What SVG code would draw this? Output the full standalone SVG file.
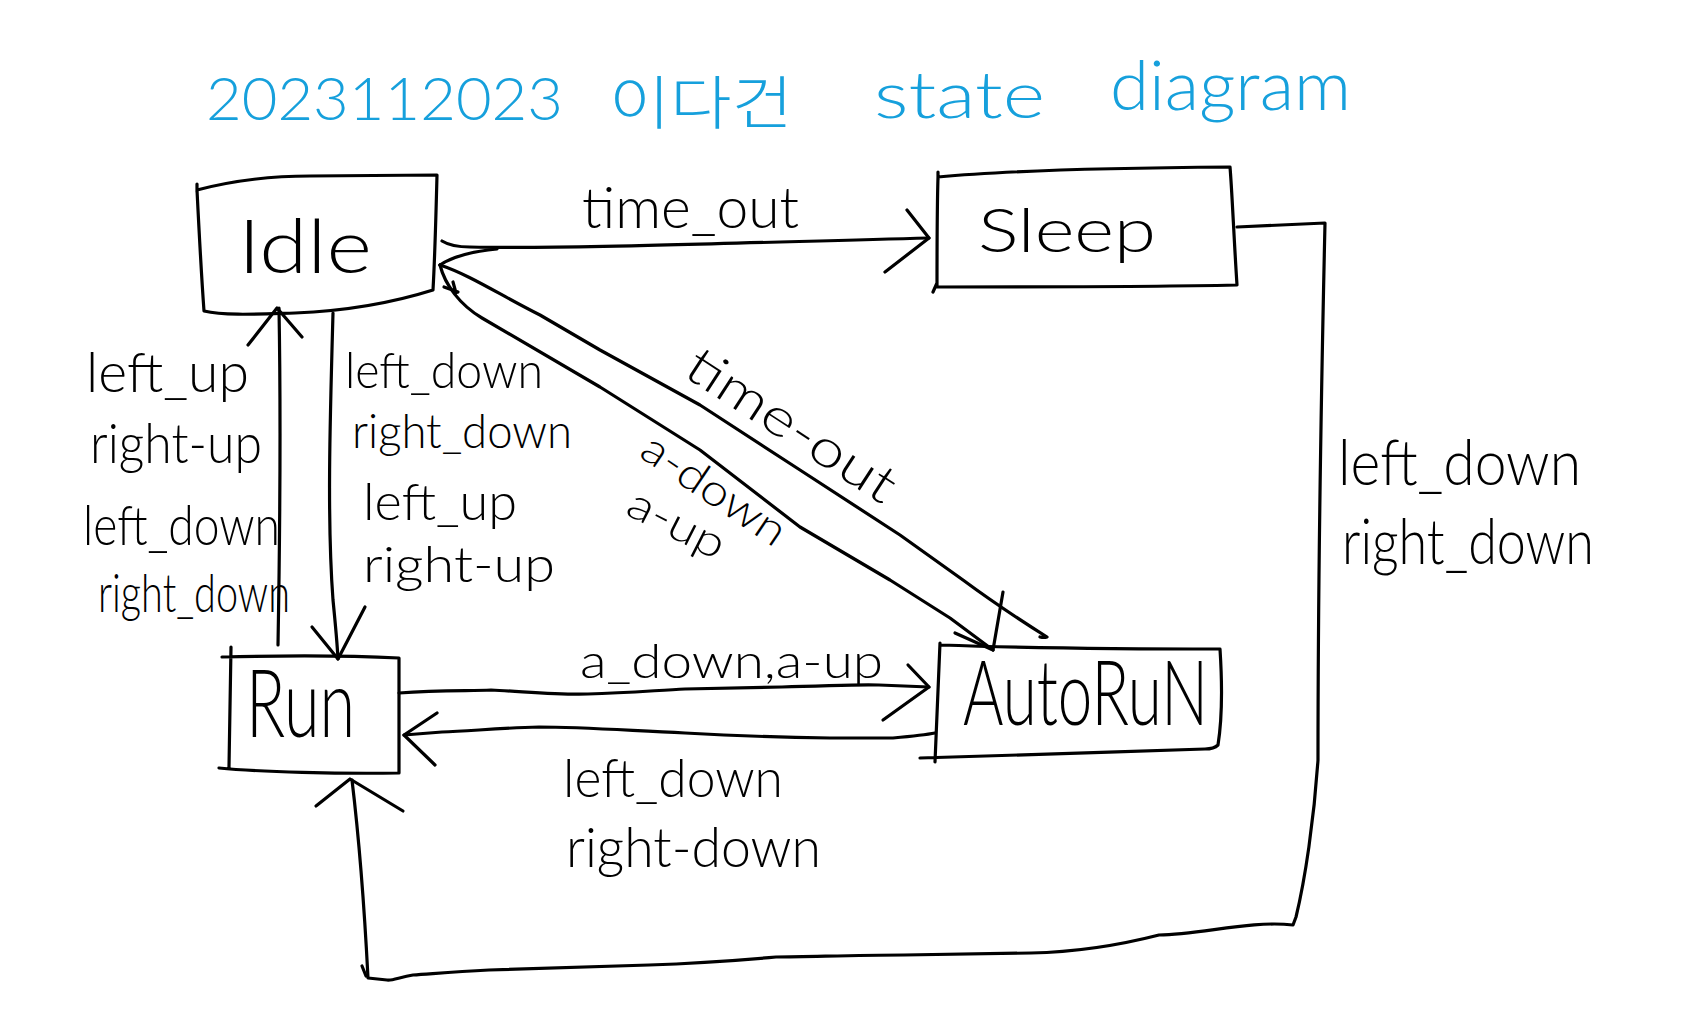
<svg xmlns="http://www.w3.org/2000/svg" width="1681" height="1027" viewBox="0 0 1681 1027">
<style>
  .bg{fill:#ffffff}
  .ink{fill:none;stroke:#000;stroke-width:3.2;stroke-linecap:round;stroke-linejoin:round}
  .t{font-family:"Lato","Liberation Sans",sans-serif;font-weight:300;fill:#000}
  .title{font-family:"Lato","Liberation Sans",sans-serif;font-weight:300;fill:#16a0dc}
  .kr{font-family:"Noto Sans CJK KR","Noto Sans",sans-serif;font-weight:300;fill:#16a0dc}
</style>
<rect class="bg" x="0" y="0" width="1681" height="1027"/>
<g id="title">
  <text class="title" x="206" y="120" font-size="60" textLength="357" lengthAdjust="spacingAndGlyphs">2023112023</text>
  <text class="kr" x="609" y="124" font-size="58" textLength="184" lengthAdjust="spacingAndGlyphs">이다건</text>
  <text class="title" x="874" y="118" font-size="66" textLength="171" lengthAdjust="spacingAndGlyphs">state</text>
  <text class="title" x="1110" y="110" font-size="68" textLength="241" lengthAdjust="spacingAndGlyphs">diagram</text>
</g>
<g id="node-idle">
  <path class="ink" d="M197,190 C235,180 270,176 310,176 L437,175 C436,215 435,255 433,290 C395,302 345,311 295,313 C260,314 225,316 204,311 C201,270 199,230 197,190 Z M197,184 L197,192"/>
  <text class="t" x="238" y="273" font-size="74" textLength="134" lengthAdjust="spacingAndGlyphs">Idle</text>
</g>
<g id="node-sleep">
  <path class="ink" d="M938,177 C990,172 1100,168 1230,167 C1232,190 1234,240 1237,285 C1140,287 1040,287 937,287 C937,250 937,210 938,177 Z M938,172 L938,180 M937,283 L933,292"/>
  <text class="t" x="978" y="252" font-size="62" textLength="178" lengthAdjust="spacingAndGlyphs">Sleep</text>
</g>
<g id="node-run">
  <path class="ink" d="M222,657 C300,655 360,656 399,658 L399,773 C340,774 260,772 219,768 M231,647 L229,767"/>
  <text class="t" x="246" y="737" font-size="95" textLength="109" lengthAdjust="spacingAndGlyphs">Run</text>
</g>
<g id="node-autorun">
  <path class="ink" d="M940,645 C1030,648 1130,649 1220,649 C1222,680 1222,720 1218,745 C1215,748 1212,749 1205,749 C1110,752 1010,756 920,758 M940,643 L935,762"/>
  <text class="t" x="963" y="725" font-size="90" textLength="245" lengthAdjust="spacingAndGlyphs">AutoRuN</text>
</g>
<g id="connectors">
  <path class="ink" d="M442,241 C450,246 458,247 470,247 C560,249 700,244 929,238"/>
  <path class="ink" d="M907,210 L929,238 L885,272"/>
  <path class="ink" d="M1040,637 C1044,638 1047,637 1047,637 C1020,620 990,600 963,580 L900,535 L800,470 L700,405 L600,350 L540,315 C500,295 470,275 440,265"/>
  <path class="ink" d="M497,249 C475,251 455,255 440,265"/>
  <path class="ink" d="M440,265 C445,285 460,305 482,318 L600,387 L700,450 L800,527 L890,580 L950,618 L993,650"/>
  <path class="ink" d="M955,633 L993,650 L1003,592"/>
  <path class="ink" d="M444,287 L458,292 M453,282 L456,293"/>
  <path class="ink" d="M333,313 C330,420 327,520 333,600 C335,620 337,640 338,659"/>
  <path class="ink" d="M312,627 L338,659 L365,607"/>
  <path class="ink" d="M278,645 C280,530 281,420 279,308"/>
  <path class="ink" d="M248,345 L277,308 L302,337"/>
  <path class="ink" d="M399,693 C440,690 470,691 491,690 C530,692 560,695 588,694 C630,693 660,690 685,689 L782,687 C830,686 860,684 879,685 L929,687"/>
  <path class="ink" d="M908,665 L929,687 L883,720"/>
  <path class="ink" d="M935,733 C925,735 915,736 893,738 L830,738 C760,737 720,735 685,733 C620,730 580,727 539,727 C500,728 470,731 442,732 L404,735"/>
  <path class="ink" d="M437,713 L404,735 L435,765"/>
  <path class="ink" d="M1237,227 L1325,223 C1321,400 1318,600 1318,760 C1314,820 1305,880 1296,917 L1293,925 C1250,920 1200,935 1159,935 C1120,945 1080,952 1031,953 L904,955 C850,955 810,957 776,957 C720,962 680,964 649,965 C580,967 530,969 489,970 C450,972 430,974 413,975 C400,977 392,981 387,980 L368,978 C364,900 358,830 352,780"/>
  <path class="ink" d="M316,806 L350,779 L403,811"/>
  <path class="ink" d="M362,966 L366,976"/>
</g>
<g id="labels">
  <text class="t" x="582" y="228" font-size="58" textLength="217" lengthAdjust="spacingAndGlyphs">time_out</text>
  <text class="t" x="782" y="440" font-size="52" text-anchor="middle" textLength="240" lengthAdjust="spacingAndGlyphs" transform="rotate(33 782 440)">time-out</text>
  <text class="t" x="706" y="502" font-size="44" text-anchor="middle" textLength="165" lengthAdjust="spacingAndGlyphs" transform="rotate(34 706 502)">a-down</text>
  <text class="t" x="670" y="537" font-size="44" text-anchor="middle" textLength="104" lengthAdjust="spacingAndGlyphs" transform="rotate(27 670 537)">a-up</text>
  <text class="t" x="86" y="392" font-size="56" textLength="163" lengthAdjust="spacingAndGlyphs">left_up</text>
  <text class="t" x="90" y="463" font-size="56" textLength="172" lengthAdjust="spacingAndGlyphs">right-up</text>
  <text class="t" x="83" y="545" font-size="56" textLength="197" lengthAdjust="spacingAndGlyphs">left_down</text>
  <text class="t" x="98" y="612" font-size="54" textLength="192" lengthAdjust="spacingAndGlyphs">right_down</text>
  <text class="t" x="345" y="388" font-size="50" textLength="198" lengthAdjust="spacingAndGlyphs">left_down</text>
  <text class="t" x="352" y="448" font-size="48" textLength="220" lengthAdjust="spacingAndGlyphs">right_down</text>
  <text class="t" x="363" y="520" font-size="52" textLength="154" lengthAdjust="spacingAndGlyphs">left_up</text>
  <text class="t" x="363" y="582" font-size="50" textLength="192" lengthAdjust="spacingAndGlyphs">right-up</text>
  <text class="t" x="1338" y="485" font-size="64" textLength="243" lengthAdjust="spacingAndGlyphs">left_down</text>
  <text class="t" x="1342" y="564" font-size="64" textLength="252" lengthAdjust="spacingAndGlyphs">right_down</text>
  <text class="t" x="580" y="678" font-size="48" textLength="303" lengthAdjust="spacingAndGlyphs">a_down,a-up</text>
  <text class="t" x="563" y="797" font-size="54" textLength="220" lengthAdjust="spacingAndGlyphs">left_down</text>
  <text class="t" x="566" y="867" font-size="56" textLength="255" lengthAdjust="spacingAndGlyphs">right-down</text>
</g>
</svg>
